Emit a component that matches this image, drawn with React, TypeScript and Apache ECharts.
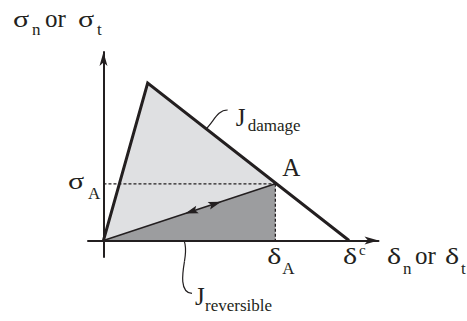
import React, { useEffect, useRef } from "react";
import * as echarts from "echarts";

// Bilinear cohesive traction–separation law, normalised units.
const envelopeDelta = [0, 0.18, 1.0]; // origin, peak, critical opening δc
const envelopeSigma = [0, 1.0, 0];
const pointA = [0.7, 0.36]; // [δA, σA] on the softening branch
const unloadArrowTips = [0.685, 0.475]; // arrow tips along O–A (fraction of A): loading, unloading
const deltaRange = [-0.063, 1.12];
const sigmaRange = [-0.105, 1.197];

const INK = "#231f20";
const LIGHT = "#dfe0e2";
const DARK = "#9c9d9f";
const FONT = "Liberation Serif";
const BIG = 25;
const GREEK = 24;
const SUB = 17;

type Pt = number[];

function label(x: number, baseline: number, text: string, size: number, scaleX = 1) {
  return {
    type: "text",
    x,
    y: baseline - 0.337 * size,
    scaleX,
    silent: true,
    style: {
      text,
      fill: INK,
      font: `${size}px ${FONT}`,
      align: "left",
      verticalAlign: "middle",
    },
  };
}

const greek = (x: number, baseline: number, text: string) =>
  label(x, baseline, text, GREEK, 1.25);

function curve(p0: Pt, c1: Pt, c2: Pt, p1: Pt) {
  return {
    type: "bezierCurve",
    silent: true,
    shape: {
      x1: p0[0],
      y1: p0[1],
      cpx1: c1[0],
      cpy1: c1[1],
      cpx2: c2[0],
      cpy2: c2[1],
      x2: p1[0],
      y2: p1[1],
    },
    style: { stroke: INK, lineWidth: 1.2, fill: "none" },
  };
}

// Filled dart-shaped arrowhead with its tip at `tip`, pointing along unit vector u.
function arrowHead(tip: Pt, u: Pt, len = 13, half = 4) {
  const n = [-u[1], u[0]];
  const b = [tip[0] - u[0] * len, tip[1] - u[1] * len];
  const notch = [tip[0] - u[0] * len * 0.8, tip[1] - u[1] * len * 0.8];
  return {
    type: "polygon",
    silent: true,
    z: 50,
    shape: {
      points: [
        tip,
        [b[0] + n[0] * half, b[1] + n[1] * half],
        notch,
        [b[0] - n[0] * half, b[1] - n[1] * half],
      ],
    },
    style: { fill: INK, stroke: "none" },
  };
}

export default function App() {
  const ref = useRef<HTMLDivElement>(null);

  useEffect(() => {
    document.body.style.margin = "0";
    const chart = echarts.init(ref.current!, null, { renderer: "svg" });

    const envelope = envelopeDelta.map((d, i) => [d, envelopeSigma[i]]);
    const [dA, sA] = pointA;

    const axisCommon = {
      axisTick: { show: false },
      axisLabel: { show: false },
      splitLine: { show: false },
      z: 10,
    };

    chart.setOption({
      animation: false,
      backgroundColor: "#ffffff",
      grid: { left: 88, right: 88.5, top: 52, bottom: 64, containLabel: false },
      xAxis: {
        type: "value",
        min: deltaRange[0],
        max: deltaRange[1],
        ...axisCommon,
        axisLine: {
          onZero: true,
          symbol: ["none", "arrow"],
          symbolSize: [6, 14],
          lineStyle: { color: INK, width: 2 },
        },
      },
      yAxis: {
        type: "value",
        min: sigmaRange[0],
        max: sigmaRange[1],
        ...axisCommon,
        axisLine: {
          onZero: true,
          symbol: ["none", "arrow"],
          symbolSize: [6, 14],
          lineStyle: { color: INK, width: 2 },
        },
      },
      series: [
        {
          // damage energy region under the envelope up to A
          type: "line",
          data: [envelope[0], envelope[1], pointA],
          symbol: "none",
          silent: true,
          lineStyle: { width: 0, opacity: 0 },
          areaStyle: { color: LIGHT, opacity: 1 },
          z: 1,
        },
        {
          // reversible (elastic) energy under the unloading path O–A
          type: "line",
          data: [[0, 0], pointA],
          symbol: "none",
          silent: true,
          lineStyle: { width: 1.5, color: INK },
          areaStyle: { color: DARK, opacity: 1 },
          z: 2,
        },
        {
          type: "line",
          data: [[0, sA], pointA],
          symbol: "none",
          silent: true,
          lineStyle: { width: 1.3, color: INK, type: [3, 2] },
          z: 3,
        },
        {
          type: "line",
          data: [pointA, [dA, 0]],
          symbol: "none",
          silent: true,
          lineStyle: { width: 1.3, color: INK, type: [3, 2] },
          z: 3,
        },
        {
          // bilinear envelope
          type: "line",
          data: envelope,
          symbol: "none",
          silent: true,
          lineStyle: { width: 3, color: INK, join: "miter", miterLimit: 20 },
          z: 4,
        },
      ],
    });

    const px = (p: Pt) => chart.convertToPixel({ gridIndex: 0 }, p) as number[];
    const O = px([0, 0]);
    const P = px(envelope[1]);
    const A = px(pointA);
    const As = px([0, sA]);
    const Ad = px([dA, 0]);
    const C = px([envelope[2][0], 0]);

    const len = Math.hypot(A[0] - O[0], A[1] - O[1]);
    const u = [(A[0] - O[0]) / len, (A[1] - O[1]) / len];
    const heads = unloadArrowTips.map((f, i) => {
      const tip = px([dA * f, sA * f]);
      return arrowHead(tip, i === 0 ? u : [-u[0], -u[1]]);
    });

    const graphics = [
      ...heads,
      // vertical axis name
      greek(13, 27, "σ"),
      label(32, 35, "n", SUB),
      label(45, 27, "or", BIG),
      greek(78, 27, "σ"),
      label(97, 35, "t", SUB),
      // horizontal axis name
      greek(387, 264, "δ"),
      label(403, 274, "n", SUB),
      label(415, 264, "or", BIG),
      greek(445, 264, "δ"),
      label(461, 274, "t", SUB),
      // σA
      greek(As[0] - 35.5, As[1] + 5.5, "σ"),
      label(As[0] - 15.5, As[1] + 15.5, "A", SUB),
      // point A
      label(A[0] + 7, A[1] - 7.5, "A", BIG),
      // δA
      greek(Ad[0] - 8, Ad[1] + 23.5, "δ"),
      label(Ad[0] + 7, Ad[1] + 33.5, "A", SUB),
      // δc
      greek(C[0] - 6, C[1] + 23.5, "δ"),
      label(C[0] + 10, C[1] + 15, "c", 15),
      // J damage
      curve(
        [P[0] + 45, P[1] + 52],
        [P[0] + 65, P[1] + 50],
        [P[0] + 65, P[1] + 27],
        [P[0] + 80, P[1] + 27]
      ),
      label(P[0] + 88, P[1] + 43, "J", BIG),
      label(P[0] + 100, P[1] + 48, "damage", SUB),
      // J reversible
      curve(
        [O[0] + 73.5, O[1] - 5.5],
        [O[0] + 83, O[1] - 4.5],
        [O[0] + 83, O[1] + 9],
        [O[0] + 81, O[1] + 21]
      ),
      curve(
        [O[0] + 81, O[1] + 21],
        [O[0] + 79, O[1] + 33],
        [O[0] + 76, O[1] + 52],
        [O[0] + 88.5, O[1] + 53]
      ),
      label(O[0] + 91.5, O[1] + 64.5, "J", BIG),
      label(O[0] + 101.5, O[1] + 70.5, "reversible", SUB),
    ];

    chart.setOption({ graphic: graphics });

    return () => chart.dispose();
  }, []);

  return (
    <div
      ref={ref}
      style={{ position: "fixed", left: 0, top: 0, width: 467, height: 321, background: "#fff" }}
    />
  );
}
